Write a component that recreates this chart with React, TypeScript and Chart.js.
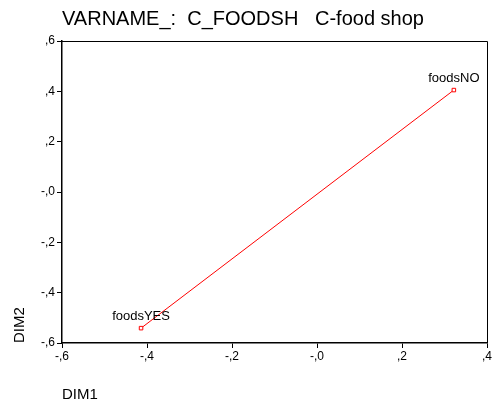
import React, { useEffect, useRef } from "react";
import { Chart, registerables } from "chart.js";

Chart.register(...registerables);

const titleText = "VARNAME_:  C_FOODSH   C-food shop";
const categories = ["foodsNO", "foodsYES"];
const dim1Values = [0.322, -0.414];
const dim2Values = [0.405, -0.541];
const xTicks = [-0.6, -0.4, -0.2, 0.0, 0.2, 0.4];
const yTicks = [-0.6, -0.4, -0.2, 0.0, 0.2, 0.4, 0.6];

const FONT = "'Liberation Sans', Arial, sans-serif";

function fmt(v: number): string {
  const r = Math.round(v * 10);
  const s = "," + Math.abs(r);
  return r <= 0 ? "-" + s : s;
}

const decorPlugin = {
  id: "decor",
  afterDatasetsDraw(chart: any) {
    const { ctx, chartArea, scales } = chart;
    ctx.save();
    // frame
    ctx.strokeStyle = "#000";
    ctx.lineWidth = 1;
    ctx.beginPath();
    ctx.moveTo(chartArea.left, chartArea.top + 0.5);
    ctx.lineTo(chartArea.right + 0.5, chartArea.top + 0.5);
    ctx.lineTo(chartArea.right + 0.5, chartArea.bottom);
    ctx.stroke();
    // point labels
    ctx.fillStyle = "#000";
    ctx.font = "13px " + FONT;
    ctx.textAlign = "center";
    ctx.textBaseline = "alphabetic";
    categories.forEach((c, i) => {
      const px = scales.x.getPixelForValue(dim1Values[i]);
      const py = scales.y.getPixelForValue(dim2Values[i]);
      ctx.fillText(c, px, py - 8);
    });
    // title
    ctx.textAlign = "left";
    ctx.font = "20px " + FONT;
    ctx.fillText(titleText, chartArea.left, 25);
    // axis titles
    ctx.font = "15px " + FONT;
    ctx.fillText("DIM1", chartArea.left, 399);
    ctx.translate(24, chartArea.bottom);
    ctx.rotate(-Math.PI / 2);
    ctx.fillText("DIM2", 0, 0);
    ctx.restore();
  },
};

export default function App() {
  const ref = useRef<HTMLCanvasElement>(null);
  useEffect(() => {
    if (!ref.current) return;
    const chart = new Chart(ref.current, {
      type: "scatter",
      data: {
        datasets: [
          {
            data: categories.map((_, i) => ({ x: dim1Values[i], y: dim2Values[i] })),
            showLine: true,
            borderColor: "#ff0000",
            borderWidth: 1,
            backgroundColor: "#ffffff",
            pointStyle: "rect",
            pointRadius: 2.5,
            pointBorderColor: "#ff0000",
            pointBorderWidth: 1,
          },
        ],
      },
      options: {
        animation: false,
        responsive: false,
        layout: { padding: { left: 0, top: 41, right: 7, bottom: 0 } },
        plugins: { legend: { display: false }, tooltip: { enabled: false }, title: { display: false } },
        scales: {
          x: {
            type: "linear",
            min: -0.6,
            max: 0.4,
            afterFit: (s: any) => { s.height = 65; },
            afterBuildTicks: (s: any) => { s.ticks = xTicks.map((v) => ({ value: v })); },
            ticks: {
              callback: (v: any) => fmt(Number(v)),
              color: "#000",
              font: { family: FONT, size: 12 },
              padding: 1,
              maxRotation: 0,
            },
            grid: { drawOnChartArea: false, tickLength: 5, color: "#000" },
            border: { color: "#000", width: 1.5 },
          },
          y: {
            type: "linear",
            min: -0.6,
            max: 0.6,
            afterFit: (s: any) => { s.width = 62; },
            afterBuildTicks: (s: any) => { s.ticks = yTicks.map((v) => ({ value: v })); },
            ticks: {
              callback: (v: any) => fmt(Number(v)),
              color: "#000",
              font: { family: FONT, size: 12 },
              padding: 2,
            },
            grid: { drawOnChartArea: false, tickLength: 5, color: "#000" },
            border: { color: "#000", width: 1.5 },
          },
        },
      },
      plugins: [decorPlugin],
    });
    return () => chart.destroy();
  }, []);
  return (
    <div style={{ position: "fixed", left: 0, top: 0, width: 494, height: 408, background: "#fff" }}>
      <canvas ref={ref} width={494} height={408} />
    </div>
  );
}
